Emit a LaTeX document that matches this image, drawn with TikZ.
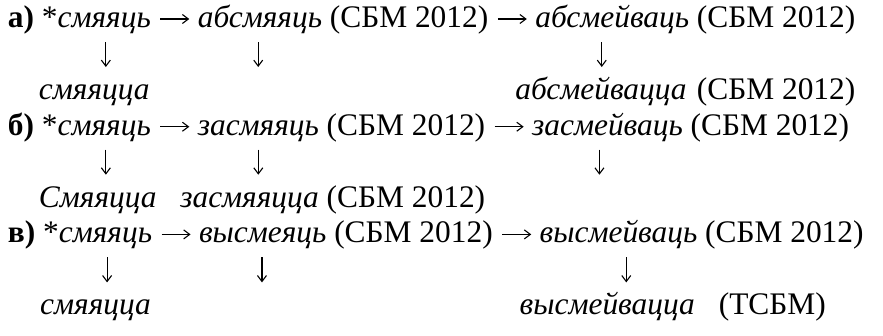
\documentclass[tikz,border=0pt]{standalone}
\usepackage{fontspec}
\setmainfont{Liberation Serif}
\usetikzlibrary{calc,arrows.meta}
\newcommand\figfs{\fontsize{31.4}{36}\selectfont}
\tikzset{
  tx/.style={anchor=base west, inner sep=0pt, outer sep=0pt, font=\figfs, text=black},
  txe/.style={anchor=base east, inner sep=0pt, outer sep=0pt, font=\figfs, text=black},
  harr/.style={draw=black, line width=1.1pt, -{Straight Barb[length=6pt,width=9pt,line width=1.1pt]}},
  varr/.style={draw=black, line width=1.1pt, -{Straight Barb[length=6pt,width=9pt,line width=1.1pt]}},
}
\begin{document}
\begin{tikzpicture}[x=1pt,y=-1pt]
\fill[white] (0,0) rectangle (883,335);
\useasboundingbox (0,0) rectangle (883,335);
\def\pitch{35.9}
\def\ra{27.5}\def\rd{135.2}\def\rg{242.9}
% ================= a) =================
\node[tx] (a1) at (8,\ra) {\textbf{а)}};
\node[tx] (a2) at ($(a1.base east)+(7.8,0)$) {*\textit{смяяць}};
\node[tx] (a4) at ($(a2.base east)+(47,0)$) {\textit{абсмяяць}};
\node[tx] (a5) at ($(a4.base east)+(7.8,0)$) {(СБМ 2012)};
\node[tx] (a7) at ($(a5.base east)+(47,0)$) {\textit{абсмейваць}};
\node[tx] (a8) at ($(a7.base east)+(7.8,0)$) {(СБМ 2012)};
\coordinate (a3s) at ($(a2.base east)+(9.5,-8.5)$);
\coordinate (a3e) at ($(a4.base west)+(-8.5,-8.5)$);
\coordinate (a6s) at ($(a5.base east)+(9.5,-8.5)$);
\coordinate (a6e) at ($(a7.base west)+(-8.5,-8.5)$);
\draw[harr] (a3s) -- (a3e);
\draw[harr] (a6s) -- (a6e);
\coordinate (a9t)  at ($($(a2.base west)!0.587!(a2.base east)$)+(0,14.5)$);
\coordinate (a9b)  at ($(a9t)+(0,25)$);
\coordinate (a10t) at ($($(a4.base west)!0.607!(a4.base east)$)+(-15,14.5)$);
\coordinate (a10b) at ($(a10t)+(0,25)$);
\coordinate (a11t) at ($($(a7.base west)!0.406!(a7.base east)$)+(4,14.5)$);
\coordinate (a11b) at ($(a11t)+(0,25)$);
\draw[varr] (a9t) -- (a9b);
\draw[varr] (a10t) -- (a10b);
\draw[varr] (a11t) -- (a11b);
\node[tx] (a12) at ($(a2.base west)+(-3,2*\pitch)$) {\textit{смяяцца}};
\node[tx] (a13) at ($(a7.base west)+(-20,2*\pitch)$) {\textit{абсмейвацца}};
\node[txe] (a14) at ($(a8.base east)+(0,2*\pitch)$) {(СБМ 2012)};
% ================= б) =================
\node[tx] (b1) at (8,\rd) {\textbf{б)}};
\node[tx] (b2) at ($(b1.base east)+(7.8,0)$) {*\textit{смяяць}};
\node[tx] (b4) at ($(b2.base east)+(47,0)$) {\textit{засмяяць}};
\node[tx] (b5) at ($(b4.base east)+(7.8,0)$) {(СБМ 2012)};
\node[tx] (b7) at ($(b5.base east)+(47,0)$) {\textit{засмейваць}};
\node[tx] (b8) at ($(b7.base east)+(7.8,0)$) {(СБМ 2012)};
\coordinate (b3s) at ($(b2.base east)+(9.5,-8.5)$);
\coordinate (b3e) at ($(b4.base west)+(-8.5,-8.5)$);
\coordinate (b6s) at ($(b5.base east)+(9.5,-8.5)$);
\coordinate (b6e) at ($(b7.base west)+(-8.5,-8.5)$);
\draw[harr] (b3s) -- (b3e);
\draw[harr] (b6s) -- (b6e);
\coordinate (b9t)  at ($($(b2.base west)!0.587!(b2.base east)$)+(0,14.5)$);
\coordinate (b9b)  at ($(b9t)+(0,25)$);
\coordinate (b10t) at ($($(b4.base west)!0.64!(b4.base east)$)+(-17,14.5)$);
\coordinate (b10b) at ($(b10t)+(0,25)$);
\coordinate (b11t) at ($($(b7.base west)!0.40!(b7.base east)$)+(7,14.5)$);
\coordinate (b11b) at ($(b11t)+(0,25)$);
\draw[varr] (b9t) -- (b9b);
\draw[varr] (b10t) -- (b10b);
\draw[varr] (b11t) -- (b11b);
\node[tx] (b12) at ($(b2.base west)+(-3,2*\pitch)$) {\textit{Смяяцца}};
\node[tx] (b14) at ($(b5.base west)+(0,2*\pitch)$) {(СБМ 2012)};
\node[txe] (b13) at ($(b14.base west)+(-7.8,0)$) {\textit{засмяяцца}};
% ================= в) =================
\node[tx] (c1) at (8,\rg) {\textbf{в)}};
\node[tx] (c2) at ($(c1.base east)+(7.8,0)$) {*\textit{смяяць}};
\node[tx] (c4) at ($(c2.base east)+(47,0)$) {\textit{высмеяць}};
\node[tx] (c5) at ($(c4.base east)+(7.8,0)$) {(СБМ 2012)};
\node[tx] (c7) at ($(c5.base east)+(47,0)$) {\textit{высмейваць}};
\node[tx] (c8) at ($(c7.base east)+(7.8,0)$) {(СБМ 2012)};
\coordinate (c3s) at ($(c2.base east)+(9.5,-8.5)$);
\coordinate (c3e) at ($(c4.base west)+(-8.5,-8.5)$);
\coordinate (c6s) at ($(c5.base east)+(9.5,-8.5)$);
\coordinate (c6e) at ($(c7.base west)+(-8.5,-8.5)$);
\draw[harr] (c3s) -- (c3e);
\draw[harr] (c6s) -- (c6e);
\coordinate (c9t)  at ($($(c2.base west)!0.587!(c2.base east)$)+(0,14.5)$);
\coordinate (c9b)  at ($(c9t)+(0,25)$);
\coordinate (c10t) at ($($(c4.base west)!0.69!(c4.base east)$)+(-25,14.5)$);
\coordinate (c10b) at ($(c10t)+(0,25)$);
\coordinate (c11t) at ($($(c7.base west)!0.53!(c7.base east)$)+(3,14.5)$);
\coordinate (c11b) at ($(c11t)+(0,25)$);
\draw[varr] (c9t) -- (c9b);
\draw[varr] (c10t) -- (c10b);
\draw[varr] (c11t) -- (c11b);
\node[tx] (c12) at ($(c2.base west)+(-3,2*\pitch)$) {\textit{смяяцца}};
\node[tx] (c13) at ($(c7.base west)+(-20,2*\pitch)$) {\textit{высмейвацца}\hspace{24pt}(ТСБМ)};
\end{tikzpicture}
\end{document}
